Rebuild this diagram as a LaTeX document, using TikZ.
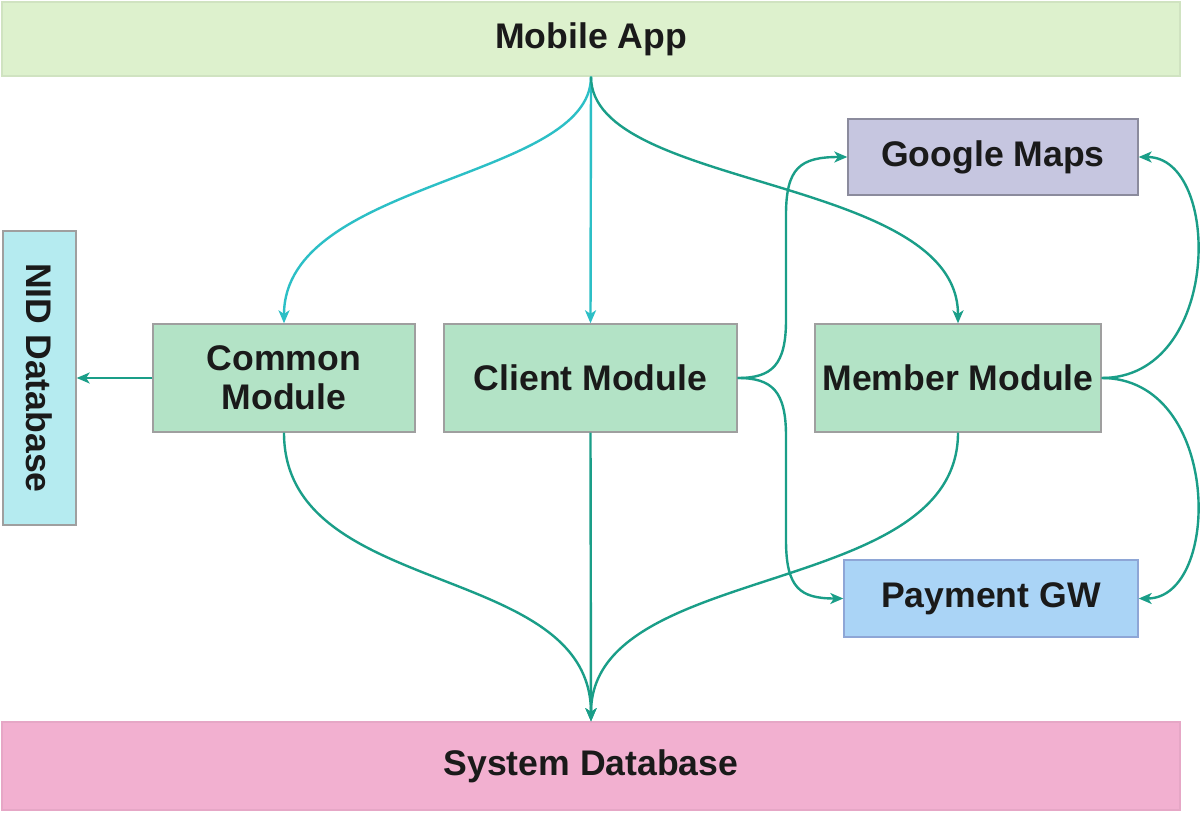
\documentclass[tikz,border=0pt]{standalone}
\usepackage{fontspec}
\setmainfont{Liberation Sans}
\usetikzlibrary{arrows.meta}

\definecolor{appgreen}{HTML}{DDF1CD}
\definecolor{modgreen}{HTML}{B3E3C6}
\definecolor{mapsblue}{HTML}{C6C6E0}
\definecolor{nidcyan}{HTML}{B5EBF0}
\definecolor{paymentblue}{HTML}{AAD4F6}
\definecolor{paymentline}{HTML}{8EA6D6}
\definecolor{dbpink}{HTML}{F2B0D0}
\definecolor{linkteal}{HTML}{1A9E88}
\definecolor{linkcyan}{HTML}{2CBFC6}
\definecolor{textdark}{HTML}{1A1A1A}

\tikzset{
  box/.style={draw=gray!75, line width=0.7pt, inner sep=0pt, align=center,
    text=textdark, font=\fontsize{17.8}{19.5}\selectfont\bfseries},
  module/.style={box, fill=modgreen, minimum height=54pt},
  link/.style={draw=linkteal, line width=1.2pt,
    -{Stealth[length=6.5pt,width=5.5pt,inset=1.8pt]}},
  linkc/.style={link, draw=linkcyan},
}

\begin{document}
\begin{tikzpicture}[x=0.5pt, y=-0.5pt]
  \path[use as bounding box, fill=white] (0,0) rectangle (1200,813);

  % top and bottom bars
  \node[box, draw=appgreen!90!black!60!appgreen, fill=appgreen,
        minimum width=589pt, minimum height=37pt] (app) at (591,39) {Mobile App};
  \node[box, draw=dbpink!95!black, fill=dbpink,
        minimum width=589pt, minimum height=44pt] (sysdb) at (591,766) {System Database};

  % modules
  \node[module, minimum width=131pt] (common) at (284,378) {Common\\Module};
  \node[module, minimum width=146.5pt] (client) at (590.5,378) {Client Module};
  \node[module, minimum width=143pt] (member) at (958,378) {Member Module};

  % external services
  \node[box, draw=mapsblue!70!black, fill=mapsblue,
        minimum width=145pt, minimum height=38pt] (maps) at (993,157) {Google Maps};
  \node[box, draw=paymentline, fill=paymentblue,
        minimum width=147pt, minimum height=38.5pt] (payment) at (991,598.5) {Payment GW};
  \node[box, fill=nidcyan, rotate=-90,
        minimum width=147pt, minimum height=36.5pt] (nid) at (39.5,378) {NID Database};

  % app to modules
  \draw[linkc] (app.south) .. controls (591,180) and (284,180) .. (common.north);
  \draw[linkc] (app.south) -- (client.north);
  \draw[link] (app.south) .. controls (591,190) and (958,175) .. (member.north);

  % modules to services
  \draw[link] (common.west) -- (nid.north);
  \draw[link] (client.east) .. controls (772,378) and (786,365) .. (786,320)
    -- (786,215) .. controls (786,168) and (800,157) .. (maps.west);
  \draw[link] (client.east) .. controls (772,378) and (786,391) .. (786,436)
    -- (786,540) .. controls (786,588) and (800,598.5) .. (payment.west);
  \draw[link] (member.east) .. controls (1222,378) and (1222,157) .. (maps.east);
  \draw[link] (member.east) .. controls (1222,378) and (1222,598.5) .. (payment.east);

  % modules to database
  \draw[link] (common.south) .. controls (284,600) and (591,560) .. (sysdb.north);
  \draw[link] (client.south) -- (sysdb.north);
  \draw[link] (member.south) .. controls (958,600) and (591,560) .. (sysdb.north);
\end{tikzpicture}
\end{document}
